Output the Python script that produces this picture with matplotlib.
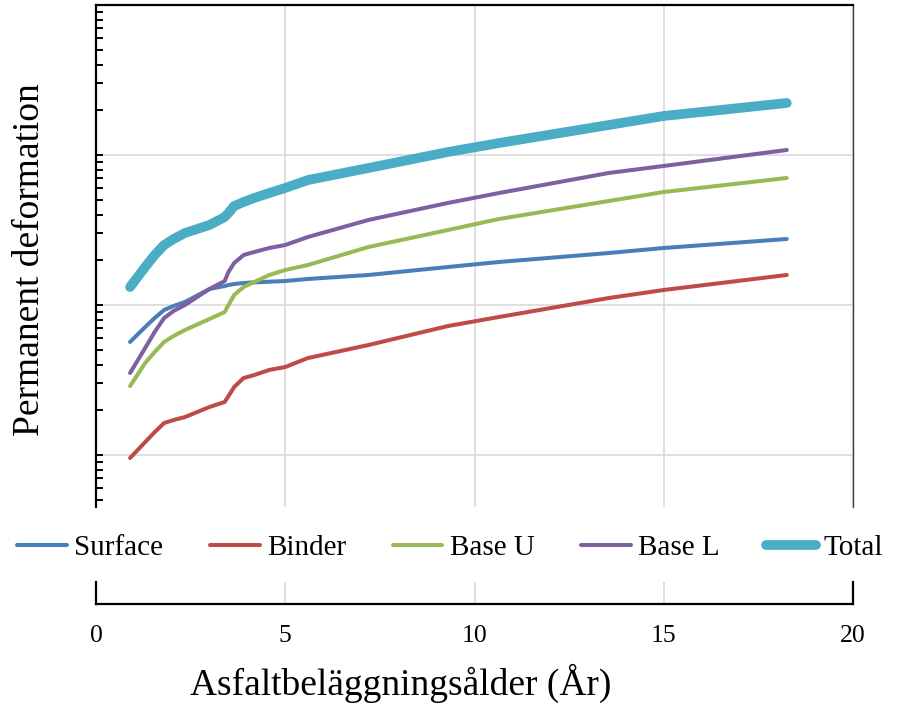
import matplotlib
matplotlib.use("Agg")
import matplotlib.pyplot as plt
import matplotlib.ticker as ticker

plt.rcParams["font.family"] = ["Liberation Serif", "DejaVu Serif"]

# beläggningsålder (år)
leta = [0.9, 1.3, 1.55, 1.8, 2.05, 2.35, 3.0, 3.4, 3.5, 3.65, 3.9, 4.18, 4.58,
        5.0, 5.6, 7.2, 9.3, 10.65, 13.55, 15.0, 18.25]

surface = [5.67, 7.13, 8.19, 9.26, 9.85, 10.47, 12.79, 13.38, 13.59, 13.8, 14.02, 14.15, 14.3,
           14.45, 14.91, 15.85, 17.92, 19.35, 22.21, 23.99, 27.54]
binder = [0.955, 1.22, 1.42, 1.635, 1.71, 1.79, 2.09, 2.256, 2.47, 2.84, 3.26, 3.41, 3.69,
          3.86, 4.43, 5.41, 7.24, 8.32, 11.13, 12.59, 15.85]
base_u = [2.88, 4.11, 4.86, 5.67, 6.21, 6.81, 8.07, 8.98, 10.0, 11.66, 13.18, 14.23, 15.85,
          17.11, 18.48, 24.36, 31.62, 37.45, 49.36, 56.66, 70.26]
base_l = [3.52, 5.17, 6.61, 8.19, 9.12, 10.0, 12.79, 14.45, 16.6, 19.05, 21.54, 22.56, 23.99,
          25.12, 28.4, 36.9, 47.9, 55.8, 75.9, 84.5, 108.0]
total = [13.18, 17.92, 21.54, 25.12, 27.54, 30.2, 34.15, 38.6, 41.06, 45.7, 48.6, 51.7, 55.8,
         60.3, 68.1, 81.9, 104.7, 120.2, 158.5, 182.0, 222.2]

serier = [
    ("Surface", surface, "#4a7ebb", 2.9),
    ("Binder", binder, "#be4b48", 2.9),
    ("Base U", base_u, "#98b954", 2.9),
    ("Base L", base_l, "#7d60a0", 2.9),
    ("Total", total, "#4bacc6", 7.0),
]

x_ticks = [0, 5, 10, 15, 20]

fig = plt.figure(figsize=(8.98, 7.06), dpi=100)

# huvuddiagram
ax = fig.add_axes([96 / 898, 1 - 507 / 706, 757 / 898, 502 / 706])
for namn, varden, farg, lw in serier:
    ax.plot(leta, varden, color=farg, linewidth=lw, label=namn,
            solid_capstyle="round", solid_joinstyle="round")

ax.set_yscale("log")
ax.set_ylim(0.45, 1000)
ax.set_xlim(0, 20)
ax.set_xticks(x_ticks)
ax.yaxis.set_major_locator(ticker.LogLocator(base=10))
ax.yaxis.set_minor_locator(ticker.LogLocator(base=10, subs=range(2, 10)))
ax.yaxis.set_major_formatter(ticker.NullFormatter())
ax.yaxis.set_minor_formatter(ticker.NullFormatter())
ax.tick_params(axis="x", bottom=False, labelbottom=False)
ax.tick_params(axis="y", which="both", direction="in", length=5, width=1.4, color="black")
ax.grid(True, which="major", color="#d9d9d9", linewidth=1.2)
ax.set_axisbelow(True)

ax.spines["bottom"].set_visible(False)
ax.spines["left"].set_linewidth(1.6)
ax.spines["top"].set_linewidth(1.6)
ax.spines["right"].set_color("#404040")
ax.spines["right"].set_linewidth(1.0)

# separat x-axel under legenden
ax2 = fig.add_axes([96 / 898, 1 - 604 / 706, 757 / 898, 22 / 706])
ax2.set_xlim(0, 20)
ax2.set_xticks(x_ticks)
ax2.set_yticks([])
ax2.grid(True, axis="x", color="#d9d9d9", linewidth=1.2)
ax2.tick_params(axis="x", length=0, pad=15, labelsize=18.5)
ax2.spines["top"].set_visible(False)
for s in ["left", "right", "bottom"]:
    ax2.spines[s].set_linewidth(1.6)

fig.legend(
    loc="center", bbox_to_anchor=(450 / 898, 1 - 548 / 706), ncol=5,
    frameon=False, fontsize=21, handlelength=1.7, handletextpad=0.25,
    columnspacing=1.6, borderpad=0, borderaxespad=0,
)

fig.text(30 / 898, 1 - 260 / 706, "Permanent deformation", rotation=90,
         ha="center", va="center", fontsize=27)
fig.text(401 / 898, 1 - 683 / 706, "Asfaltbeläggningsålder (År)",
         ha="center", va="center", fontsize=27)

plt.savefig("out.png", dpi=100)
plt.close()
